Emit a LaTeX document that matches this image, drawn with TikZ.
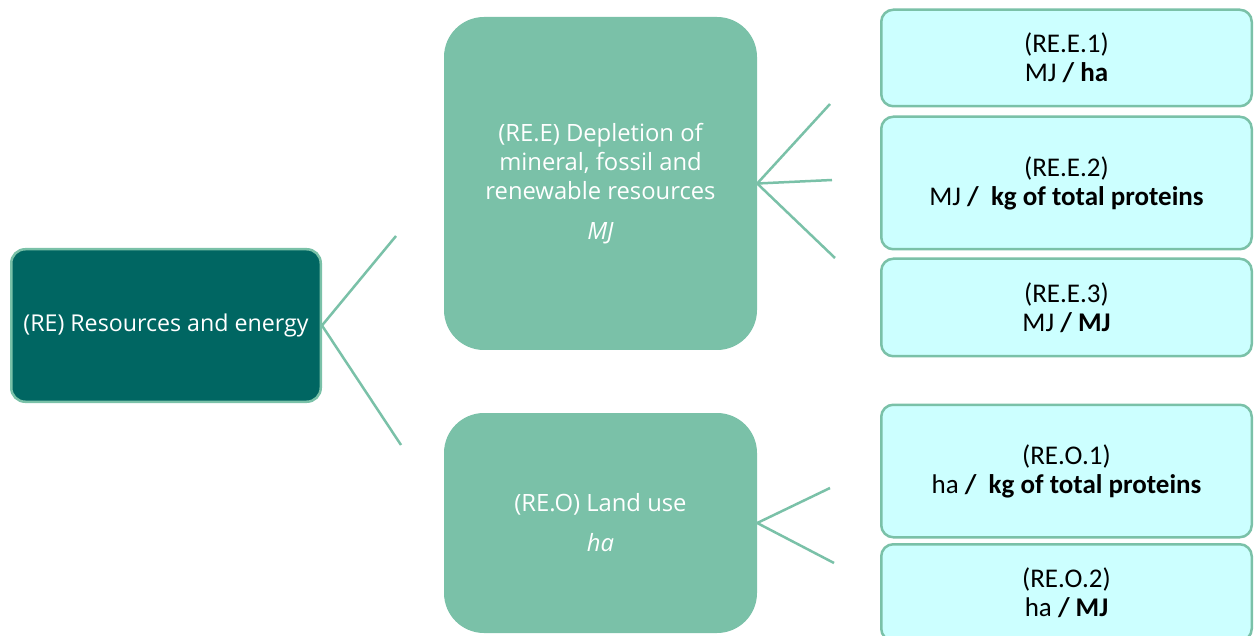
\documentclass[tikz,border=0pt]{standalone}
\usepackage{fontspec}
\setmainfont{Carlito}
\newfontfamily\osans{Open Sans}
\definecolor{teal1}{RGB}{0,102,98}
\definecolor{mint}{RGB}{122,193,168}
\definecolor{cyanbox}{RGB}{204,255,255}
\begin{document}
\begin{tikzpicture}[x=1pt,y=-1pt,
  root/.style={draw=mint, line width=2.5pt, fill=teal1, rounded corners=14pt,
    minimum width=309.5pt, minimum height=152.5pt, inner sep=0pt, text=white,
    font=\osans\fontsize{23.2}{29}\selectfont, align=center},
  mid/.style={fill=mint, rounded corners=40pt, minimum width=313pt, inner sep=0pt,
    text=white, font=\osans\fontsize{23.8}{29}\selectfont, align=center},
  leaf/.style={draw=mint, line width=2.5pt, fill=cyanbox, rounded corners=12pt,
    minimum width=370.5pt, inner sep=0pt, font=\fontsize{27}{29}\selectfont, align=center},
  link/.style={draw=mint, line width=2.5pt}]
\useasboundingbox (0,0) rectangle (1256,636);
\fill[white] (0,0) rectangle (1256,636);

\node[root] (re) at (166,325.5) {(RE) Resources and energy};

\node[mid, minimum height=333pt] (ree) at (600.5,183.5)
  {(RE.E) Depletion of\\mineral, fossil and\\renewable resources\\[11pt]\textit{MJ}};
\node[mid, minimum height=220pt] (reo) at (600.5,523)
  {(RE.O) Land use\\[11pt]\textit{ha}};

\node[leaf, minimum height=96.5pt] (e1) at (1066.5,58) {(RE.E.1)\\MJ \textbf{/ ha}};
\node[leaf, minimum height=132.5pt] (e2) at (1066.5,183) {(RE.E.2)\\MJ \textbf{/~ kg of total proteins}};
\node[leaf, minimum height=97.5pt] (e3) at (1066.5,307.5) {(RE.E.3)\\MJ \textbf{/ MJ}};
\node[leaf, minimum height=132.5pt] (o1) at (1066.5,471) {(RE.O.1)\\ha \textbf{/~ kg of total proteins}};
\node[leaf, minimum height=96.5pt] (o2) at (1066.5,592.5) {(RE.O.2)\\ha \textbf{/ MJ}};

\coordinate (c1) at (396,236);
\coordinate (c2) at (401,445);
\coordinate (c3) at (830,104);
\coordinate (c4) at (832,180);
\coordinate (c5) at (835,258);
\coordinate (c6) at (830,488);
\coordinate (c7) at (834,563);

\draw[link] (re.east) -- (c1);
\draw[link] (re.east) -- (c2);
\draw[link] (ree.east) -- (c3);
\draw[link] (ree.east) -- (c4);
\draw[link] (ree.east) -- (c5);
\draw[link] (reo.east) -- (c6);
\draw[link] (reo.east) -- (c7);
\end{tikzpicture}
\end{document}
